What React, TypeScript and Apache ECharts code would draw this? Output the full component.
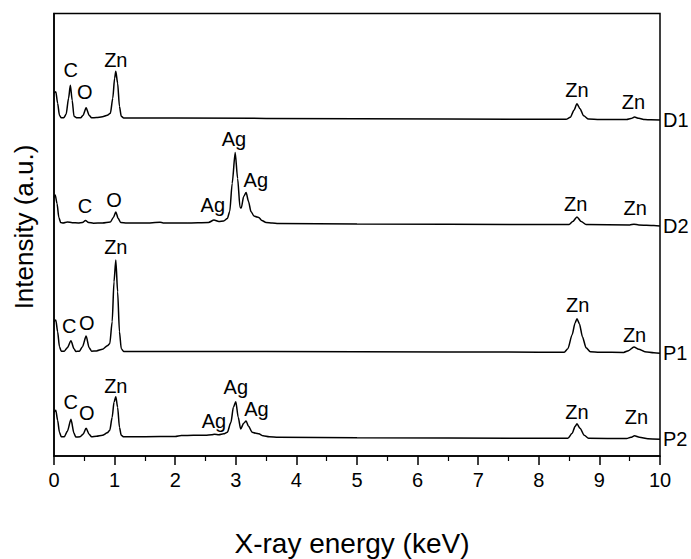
import React, { useEffect, useRef } from "react";
import * as echarts from "echarts";

// Energy (keV) / intensity above each spectrum's baseline (a.u.)
const d1Energy = [0, 0.03, 0.06, 0.09, 0.12, 0.16, 0.2, 0.24, 0.27, 0.3, 0.33, 0.38, 0.44, 0.48, 0.53, 0.58, 0.62, 0.7, 0.8, 0.88, 0.93, 0.97, 1.0, 1.02, 1.05, 1.08, 1.11, 1.15, 2, 5, 8, 8.45, 8.52, 8.58, 8.63, 8.68, 8.74, 8.82, 9.0, 9.45, 9.52, 9.58, 9.65, 9.75, 9.85, 10];
const d1Counts = [25, 26.6, 15, 3, 0.5, 0.5, 4, 20, 33, 18, 2, 0.5, 0.5, 3, 10.5, 3, 0.5, 0.8, 1.5, 3, 5, 20, 40, 47, 35, 12, 2, 0.3, 0.3, -0.5, -1, -1, 1, 8, 14.5, 9.5, 2.5, -0.8, -1.2, -1.2, -0.2, 1.2, 0, -1.2, -1.5, -1.7];

const d2Energy = [0, 0.02, 0.05, 0.08, 0.11, 0.15, 0.22, 0.3, 0.4, 0.47, 0.52, 0.57, 0.65, 0.8, 0.93, 0.98, 1.02, 1.06, 1.1, 1.2, 1.5, 1.75, 1.8, 2.2, 2.55, 2.64, 2.72, 2.8, 2.86, 2.9, 2.94, 2.99, 3.03, 3.07, 3.09, 3.13, 3.17, 3.21, 3.25, 3.3, 3.35, 3.38, 3.43, 3.5, 3.6, 3.7, 5, 8, 8.5, 8.56, 8.63, 8.7, 8.78, 9.5, 9.57, 9.65, 9.9, 10];
const d2Counts = [26, 28.5, 20, 6, 1, 0.5, 1.5, 0.8, 0.5, 1, 3, 1, 0.3, 0.5, 1.5, 6, 11.5, 5, 1, 0.5, 0.5, 1.2, 0.6, 0.5, 1, 3.5, 2, 2.5, 5, 12, 40, 71, 45, 16, 15.5, 27, 31, 22, 12, 7.5, 6.5, 6, 3, 1, 0.5, 0, -0.5, -1, -1, 2, 6.5, 2, -1, -1.5, -0.7, -1.5, -2, -2.5];

const p1Energy = [0, 0.03, 0.06, 0.09, 0.12, 0.17, 0.22, 0.28, 0.33, 0.36, 0.42, 0.47, 0.53, 0.58, 0.62, 0.7, 0.8, 0.88, 0.92, 0.96, 0.99, 1.02, 1.05, 1.08, 1.11, 1.15, 2, 5, 8, 8.42, 8.48, 8.55, 8.6, 8.63, 8.67, 8.72, 8.78, 8.85, 9.0, 9.4, 9.48, 9.57, 9.65, 9.75, 9.9, 10];
const p1Counts = [30, 31.7, 20, 5, 0.5, 0.5, 4, 11, 3, 0.3, 0.5, 5, 15.7, 4, 0.5, 0.8, 2.5, 6, 8, 30, 70, 91.7, 60, 20, 3, 0.3, 0.3, 0, -0.5, -0.5, 3, 17, 29, 33, 28, 15, 4, 0, -0.5, -0.7, 1, 4.8, 2.5, 0, -1, -1.5];

const p2Energy = [0, 0.03, 0.06, 0.09, 0.12, 0.17, 0.22, 0.28, 0.33, 0.36, 0.43, 0.48, 0.53, 0.58, 0.62, 0.7, 0.8, 0.88, 0.92, 0.96, 0.99, 1.02, 1.05, 1.08, 1.11, 1.15, 1.5, 2.0, 2.1, 2.3, 2.5, 2.6, 2.65, 2.72, 2.8, 2.86, 2.92, 2.96, 3.0, 3.04, 3.08, 3.13, 3.17, 3.21, 3.27, 3.33, 3.38, 3.45, 3.55, 3.7, 5, 8, 8.48, 8.55, 8.6, 8.63, 8.68, 8.75, 8.82, 9.45, 9.52, 9.58, 9.66, 9.8, 10];
const p2Counts = [25, 27, 17, 5, 0.5, 0.5, 6, 18, 4, 0.3, 0.5, 3, 9, 3, 0.5, 1, 2, 4.5, 7, 20, 35, 40.6, 30, 10, 2, 0.5, 0.6, 0.8, 1.8, 2, 2, 2.5, 3, 2.5, 3.5, 5, 15, 30, 35.6, 20, 8.3, 14, 16.3, 11, 5, 4, 3.5, 1.5, 0.5, 0, -0.5, -1, -1, 4, 11, 13.5, 9, 2, -1, -1.2, 0, 1.5, 0, -1.5, -2];

const sampleNames = ["D1", "D2", "P1", "P2"];
const sampleOffsets = [337.7, 232.5, 104.3, 18.7];
const sampleEnergies = [d1Energy, d2Energy, p1Energy, p2Energy];
const sampleCounts = [d1Counts, d2Counts, p1Counts, p2Counts];

// peak annotations: [text, energy keV, intensity position]
const peakLabels: [string, number, number][] = [
  ["C", 0.275, 386], ["O", 0.51, 364.3], ["Zn", 1.02, 396], ["Zn", 8.63, 366], ["Zn", 9.56, 354.3],
  ["C", 0.51, 249.6], ["O", 0.99, 255.6], ["Ag", 2.62, 251], ["Ag", 2.97, 317.5], ["Ag", 3.33, 276],
  ["Zn", 8.61, 252.4], ["Zn", 9.59, 247.8],
  ["C", 0.25, 130], ["O", 0.54, 133.3], ["Zn", 1.02, 208.7], ["Zn", 8.64, 151], ["Zn", 9.58, 121],
  ["C", 0.275, 54.3], ["O", 0.54, 42.7], ["Zn", 1.02, 70.3], ["Ag", 2.64, 35.3], ["Ag", 3.0, 68.7],
  ["Ag", 3.34, 46.7], ["Zn", 8.63, 44.3], ["Zn", 9.61, 39.3],
];

const xTitle = "X-ray energy (keV)";
const yTitle = "Intensity (a.u.)";

const FONT = "'Liberation Sans', Arial, Helvetica, sans-serif";

export default function App() {
  const ref = useRef<HTMLDivElement>(null);
  useEffect(() => {
    if (!ref.current) return;
    const chart = echarts.init(ref.current, undefined, { renderer: "svg" });
    const lineSeries = sampleNames.map((name, i) => ({
      type: "line",
      name,
      data: sampleEnergies[i].map((e, j) => [e, sampleOffsets[i] + sampleCounts[i][j]]),
      showSymbol: false,
      symbol: "none",
      smooth: 0.25,
      smoothMonotone: "x",
      lineStyle: { color: "#000", width: 1.5 },
      endLabel: {
        show: true,
        formatter: name,
        color: "#000",
        fontFamily: FONT,
        fontSize: 20,
        distance: 3,
      },
      silent: true,
      z: 3,
    }));
    chart.setOption({
      animation: false,
      backgroundColor: "#fff",
      grid: { left: 54, right: 31, top: 13.5, bottom: 103, show: true, borderColor: "#000", borderWidth: 1.5, backgroundColor: "transparent" },
      xAxis: {
        type: "value",
        min: 0,
        max: 10,
        interval: 1,
        axisLine: { show: true, lineStyle: { color: "#000", width: 1.5 } },
        axisTick: { show: true, length: 9, lineStyle: { color: "#000", width: 1.5 } },
        minorTick: { show: true, splitNumber: 2, length: 5, lineStyle: { color: "#000", width: 1.2 } },
        axisLabel: { color: "#000", fontSize: 20, fontFamily: FONT, margin: 14 },
        splitLine: { show: false },
      },
      yAxis: {
        type: "value",
        min: 0,
        max: 442.5,
        axisLine: { show: true, lineStyle: { color: "#000", width: 1.5 } },
        axisTick: { show: false },
        axisLabel: { show: false },
        splitLine: { show: false },
      },
      series: [
        ...lineSeries,
        {
          type: "scatter",
          symbol: "circle",
          symbolSize: 1,
          silent: true,
          itemStyle: { opacity: 1, color: "transparent" },
          data: peakLabels.map(([t, e, v]) => ({ name: t, value: [e, v] })),
          label: {
            show: true,
            position: "inside",
            formatter: (p: any) => p.name,
            color: "#000",
            opacity: 1,
            textBorderWidth: 0,
            fontSize: 20,
            fontFamily: FONT,
          },
          labelLayout: { hideOverlap: false },
          z: 4,
        },
      ],
      graphic: [
        {
          type: "text",
          x: 352,
          y: 543,
          style: { text: xTitle, fill: "#000", font: `28px ${FONT}`, textAlign: "center", textVerticalAlign: "middle" },
        },
        {
          type: "text",
          x: 24,
          y: 227,
          rotation: Math.PI / 2,
          style: { text: yTitle, fill: "#000", font: `26px ${FONT}`, textAlign: "center", textVerticalAlign: "middle" },
        },
      ],
    });
    return () => chart.dispose();
  }, []);
  return <div ref={ref} style={{ position: "fixed", left: 0, top: 0, width: 691, height: 559 }} />;
}
